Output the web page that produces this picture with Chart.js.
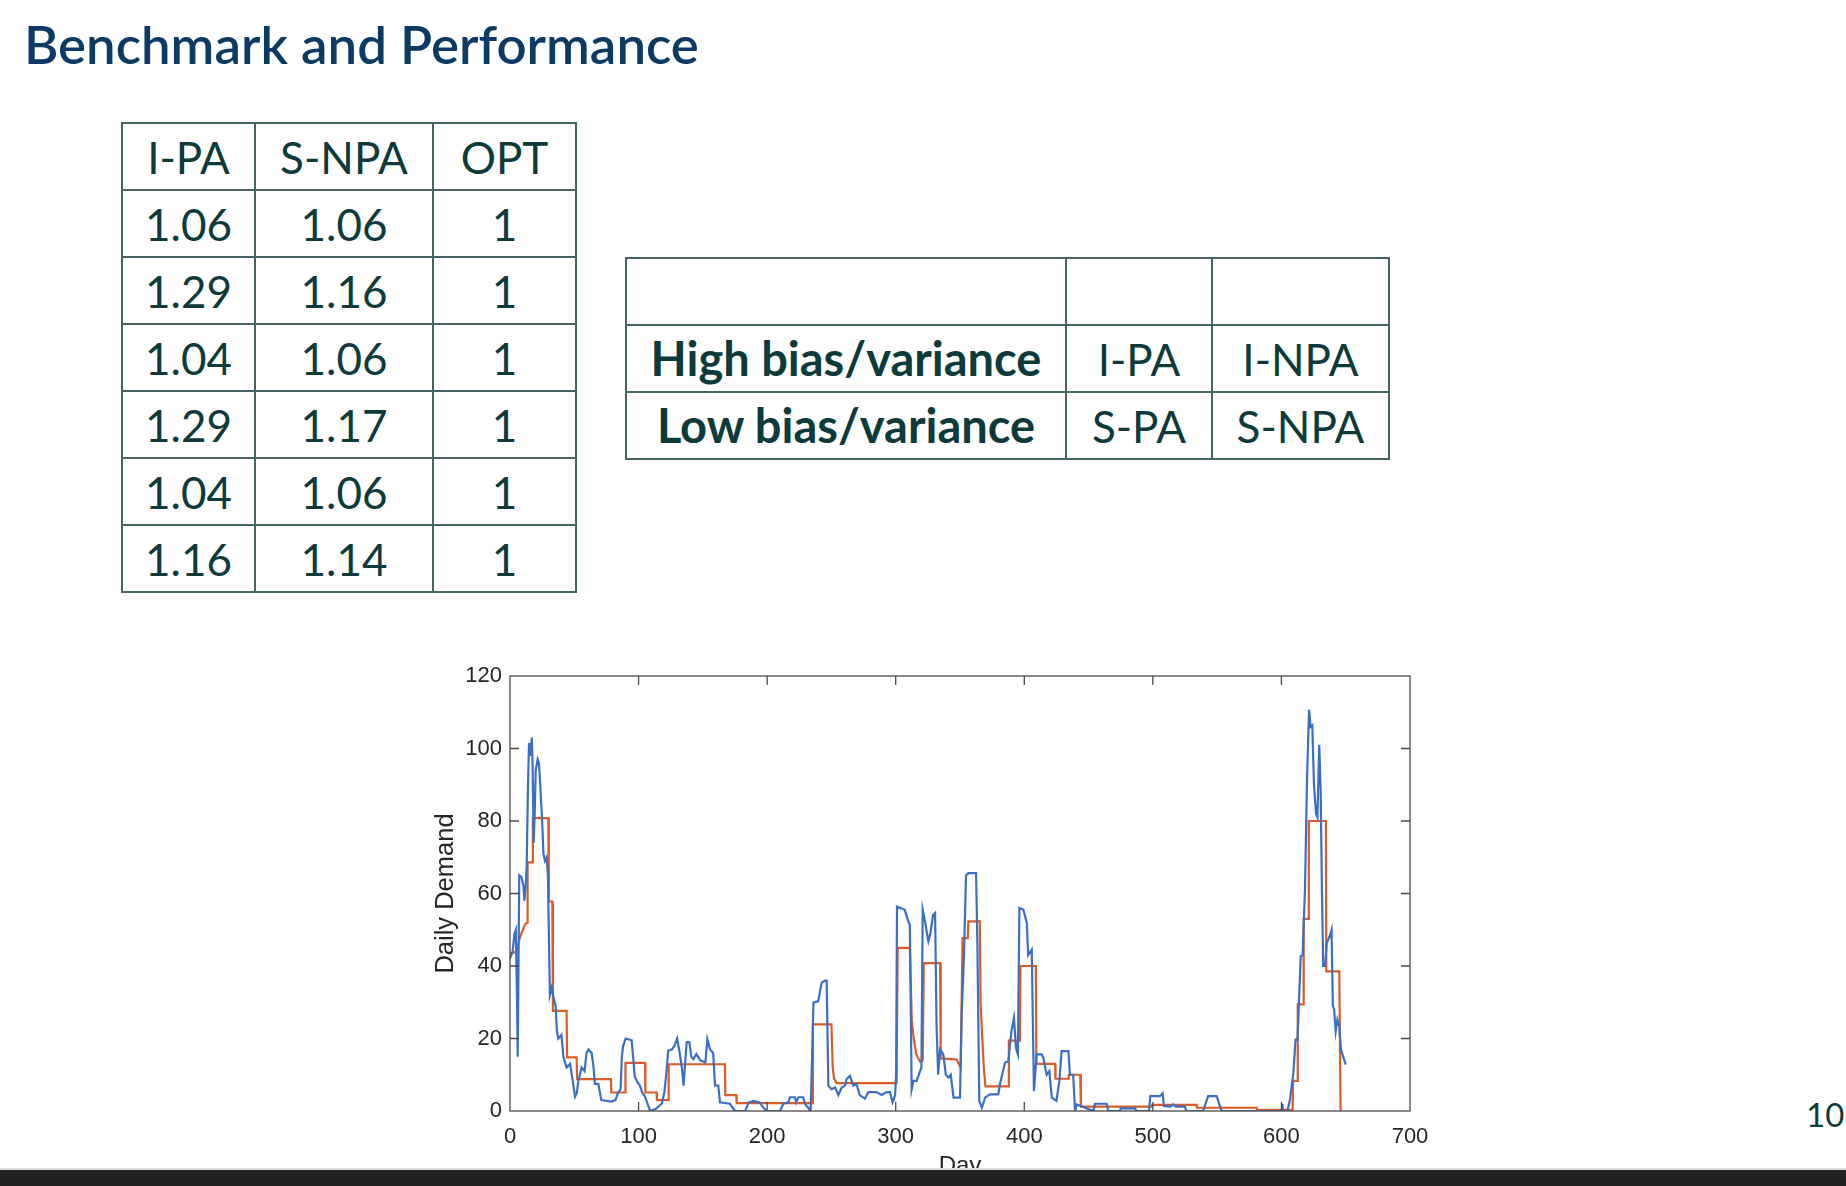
<!DOCTYPE html>
<html>
<head>
<meta charset="utf-8">
<script src="https://cdn.jsdelivr.net/npm/chart.js@4.4.1/dist/chart.umd.min.js"></script>
<style>
  html, body { margin:0; padding:0; background:#fff; }
  body { width:1846px; height:1186px; position:relative; overflow:hidden; font-family:"Lato","Noto Sans",sans-serif; }
  #title { position:absolute; left:24px; top:14px; font-size:50px; font-weight:600; color:#0c3a64; white-space:nowrap; line-height:60px; }
  table.t { position:absolute; border-collapse:collapse; color:#0d3a3a; font-size:44px; }
  table.t td { border:2px solid #466464; text-align:center; padding:0; line-height:1; }
  table.t td.b { font-size:47px; font-weight:700; }
  #t1 { left:121px; top:122px; }
  #t2 { left:625px; top:257px; }
  #pg { position:absolute; left:1806px; top:1094px; font-size:33px; color:#0d3a3a; }
  #bar { position:absolute; left:0; top:1168px; width:1846px; height:18px; background:#222022; border-top:2px solid #dcdcdc; z-index:5; }
  #cwrap { position:absolute; left:400px; top:650px; width:1060px; height:536px; }
</style>
</head>
<body>
<div id="title">Benchmark and Performance</div>
<table class="t" id="t1"></table>
<table class="t" id="t2"></table>
<div id="pg">10</div>
<div id="cwrap"><canvas id="c"></canvas></div>
<div id="bar"></div>
<script>
// ---------- table data ----------
const table1Header = ["I-PA", "S-NPA", "OPT"];
const ipaRatios  = [1.06, 1.29, 1.04, 1.29, 1.04, 1.16];
const snpaRatios = [1.06, 1.16, 1.06, 1.17, 1.06, 1.14];
const optRatios  = [1, 1, 1, 1, 1, 1];
const table2RowLabels = ["", "High bias/variance", "Low bias/variance"];
const table2ColA = ["", "I-PA", "S-PA"];
const table2ColB = ["", "I-NPA", "S-NPA"];

// ---------- chart data ----------
const xTicks = [0, 100, 200, 300, 400, 500, 600, 700];
const yTicks = [0, 20, 40, 60, 80, 100, 120];

const demandDays = [0,2,3.5,4.5,5.5,6,6.6,7.2,9,10.5,11.2,12.2,13,14,14.8,15.5,16.2,17,17.6,18.4,19.2,20,21.5,22.5,23.5,25,26,27.2,28.5,29.5,31,32.4,34,35.5,36.5,37.6,40,41.5,44,46.7,48.5,50.6,52,53,55.7,58,59.5,61,63.5,65,66,68.7,70,71,79,82,84,86,87,88,90,94.6,96,97,99,101,103,105,107,109,113,118,120,121.5,123,126,128,130,132,134,135,136,137.4,139.5,141,142.6,145,148,152,153.5,155.6,158,159.5,162,163.3,171,175,183,185.5,189.4,194.6,196,199.6,210,212.6,216.5,217.8,221.7,222.5,224.3,228,229.4,233.8,235,236,239.8,242.4,245,246.3,247.6,250,252.8,255.4,258,260.6,261.8,264.4,267,269.6,272,276,278.7,285,289,293,295.5,297.6,299.5,300.3,301,307,309.8,311,312.4,313.7,316.3,318.9,320,321,322.8,325.4,327,329,330.6,331.8,333,334.5,337,339,341,342.8,345,350,351.3,353,354.7,356.5,362.5,363.5,365,367,369.5,373.3,379.8,381,385,387.6,390,392,393.5,395,396.2,399.3,402,403,405.8,407.5,409.6,413.5,414.8,417.4,419.5,421.4,425,427.3,429,434.3,435.5,438,439.5,440.7,453.7,455,464,465.4,474.4,475,486,487.4,497,498,505.5,507.6,508.6,513.3,515.9,518,525,526,539,543,549.6,553.5,600.3,600.8,601.3,604.6,606.7,609.3,611,612.5,614,615,616.5,618.3,620,621.5,622.7,624,625.3,626.9,628,629.4,630.5,631.5,632.5,634,635.2,637.3,639,640,641,642.2,643.5,645,646.3,648,650];
const demandValues = [42,44,49,50,30,15,40,65,64.5,62,58,62,68,90,101.5,98,100,103,95,74,82,94,97,96,90,80,71,69,70,65,32,34,31,29,22,20,21,15,12,13,9,4,5,8,12,11,16,17,16,12,7.5,7.5,5,3,2.6,3,5,6,15,18,20,19.5,14,9.5,8,7,5,4,2,0,0.5,2,5,10,16.6,17,18,20,16,11,7,12,19,19,15,14.3,15.7,14,13.4,19.8,17,16,7,7,2.4,2,0,0,2.3,2.8,2.3,1.4,0,0,2,2.4,3.8,3.8,2.4,3.8,3.8,2,0,15,29.9,30.3,35.4,36,36,7,6,6.5,4.4,6.5,7,8.8,9.7,7,7.4,4.4,3.4,5.2,5.2,4.4,5.2,5.2,2.4,4.4,10,56.4,55.5,52.3,51.4,6,8.3,8.3,11,12,55.5,52.3,46.8,49,54,54.6,23,10,17,15.6,10,9.2,10,3.7,3.7,26.6,42,65,65.6,65.6,46.8,2.8,0.9,3.7,4.6,4.6,7.3,13.3,13.8,22,25.7,17.4,15.6,56,55.5,51.8,43,44.5,5.5,15.6,15.6,14.7,10,11,3.7,2.8,8.3,16.5,16.5,10,10,0,1.8,0,2,2,0,0,0.7,0.7,0,0,4.1,4.1,4.9,1.4,1.2,1.8,1.2,1.2,0,0,4.1,4.1,0,0,2,0,0,3.2,10.5,19.7,19.7,33.5,42.7,43,61,93,110.7,106,106.4,90,82,81,101,88.5,61,40,40,46.3,48,50,29,28,22,25.2,23.4,17,15,12.8];

const policyDays = [0,5,7.8,11.7,13.5,13.7,17.5,17.8,29.8,30.2,32.9,33.4,44,44.4,51.8,52.2,78.5,78.8,89.5,89.8,105,105.3,114,114.3,123,123.4,167.2,167.5,176,176.3,235,235.6,250,251,252,254,300.7,301.5,311,312.5,314,316,319,321,321.8,334.5,335,347.4,350.5,352,356,356.5,365.4,366,367.2,368.5,369.8,387.6,388,396.6,397,409,409.4,424,424.3,434.3,434.6,443.5,444,499,499.5,534,534.3,580.7,581,608.7,609,612.4,612.7,617,617.3,621,621.3,634.6,634.9,645,646];
const policyValues = [43.3,44,48,51.5,52,68.6,68.6,80.8,80.8,57.8,57.8,27.6,27.6,14.8,14.8,8.8,8.8,5.1,5.1,13.3,13.3,5.1,5.1,3,3,12.9,12.9,4.4,4.4,2.2,2.2,23.9,23.9,12,9,7.7,7.7,45,45,25,20,15.6,13.6,14,40.8,40.8,14.5,14.2,12,47.7,47.7,52.3,52.3,30,21,12,6.8,6.8,19.4,19.4,40,40,13,13,8.9,8.9,10,10,1.2,1.2,1.7,1.7,0.9,0.9,0.3,0.3,8.3,8.3,29.4,29.4,53,53,80,80,38.5,38.5,0];

// ---------- build tables ----------
function cell(tr, text, w, h, bold) {
  const td = document.createElement('td');
  td.textContent = text;
  td.style.width = w + 'px';
  td.style.height = h + 'px';
  if (bold) td.className = 'b';
  tr.appendChild(td);
}
(function(){
  const t1 = document.getElementById('t1');
  const w1 = [131, 176, 141], rh = 65;
  let tr = document.createElement('tr');
  table1Header.forEach((h,i)=>cell(tr,h,w1[i],rh));
  t1.appendChild(tr);
  for (let r=0;r<ipaRatios.length;r++){
    tr = document.createElement('tr');
    cell(tr, ipaRatios[r].toFixed(2), w1[0], rh);
    cell(tr, snpaRatios[r].toFixed(2), w1[1], rh);
    cell(tr, String(optRatios[r]), w1[2], rh);
    t1.appendChild(tr);
  }
  const t2 = document.getElementById('t2');
  const w2 = [438, 144, 175];
  for (let r=0;r<table2RowLabels.length;r++){
    tr = document.createElement('tr');
    cell(tr, table2RowLabels[r], w2[0], rh, true);
    cell(tr, table2ColA[r], w2[1], rh);
    cell(tr, table2ColB[r], w2[2], rh);
    t2.appendChild(tr);
  }
  // fit title width
  const ti = document.getElementById('title');
  const w = ti.getBoundingClientRect().width;
  ti.style.fontSize = (50 * 675 / w) + 'px';
})();

// ---------- chart ----------
const frame = {
  id: 'frame',
  afterDatasetsDraw(chart) {
    const {ctx, chartArea: a, scales: {x, y}} = chart;
    ctx.save();
    ctx.strokeStyle = '#4a4a4a';
    ctx.lineWidth = 1.3;
    ctx.strokeRect(a.left, a.top, a.right - a.left, a.bottom - a.top);
    const L = 9;
    ctx.beginPath();
    xTicks.forEach(v => {
      if (v === xTicks[0] || v === xTicks[xTicks.length-1]) return;
      const px = x.getPixelForValue(v);
      ctx.moveTo(px, a.bottom); ctx.lineTo(px, a.bottom - L);
      ctx.moveTo(px, a.top); ctx.lineTo(px, a.top + L);
    });
    yTicks.forEach(v => {
      if (v === yTicks[0] || v === yTicks[yTicks.length-1]) return;
      const py = y.getPixelForValue(v);
      ctx.moveTo(a.left, py); ctx.lineTo(a.left + L, py);
      ctx.moveTo(a.right, py); ctx.lineTo(a.right - L, py);
    });
    ctx.stroke();
    ctx.restore();
  }
};

const blue = '#3b6fc6', orange = '#de5a26';
new Chart(document.getElementById('c'), {
  type: 'line',
  data: {
    datasets: [
      { label: 'Daily Demand', data: demandDays.map((d,i)=>({x:d, y:demandValues[i]})),
        borderColor: blue, borderWidth: 2.2, pointRadius: 0, tension: 0, fill: false },
      { label: 'Order', data: policyDays.map((d,i)=>({x:d, y:policyValues[i]})),
        borderColor: orange, borderWidth: 2.2, pointRadius: 0, tension: 0, fill: false }
    ]
  },
  plugins: [frame],
  options: {
    responsive: true, maintainAspectRatio: false, animation: false,
    layout: { padding: { top: 26, right: 50, left: 0, bottom: 0 } },
    plugins: { legend: { display: false }, tooltip: { enabled: false } },
    scales: {
      x: {
        type: 'linear', min: 0, max: 700,
        afterBuildTicks: s => { s.ticks = xTicks.map(v => ({value: v})); },
        afterFit: s => { s.height = 75; },
        grid: { display: false, drawTicks: false },
        border: { display: false },
        ticks: { padding: 13, color: '#262626', font: { family: 'Liberation Sans', size: 22 } },
        title: { display: true, text: 'Day', color: '#262626', font: { family: 'Liberation Sans', size: 24 }, padding: { top: 0, bottom: 5 } }
      },
      y: {
        type: 'linear', min: 0, max: 120,
        afterBuildTicks: s => { s.ticks = yTicks.map(v => ({value: v})); },
        afterFit: s => { s.width = 110; },
        grid: { display: false, drawTicks: false },
        border: { display: false },
        ticks: { padding: 8, color: '#262626', font: { family: 'Liberation Sans', size: 22 } },
        title: { display: true, text: 'Daily Demand', color: '#262626', font: { family: 'Liberation Sans', size: 25.5 }, padding: { top: 31, bottom: 0 } }
      }
    }
  }
});
</script>
</body>
</html>
